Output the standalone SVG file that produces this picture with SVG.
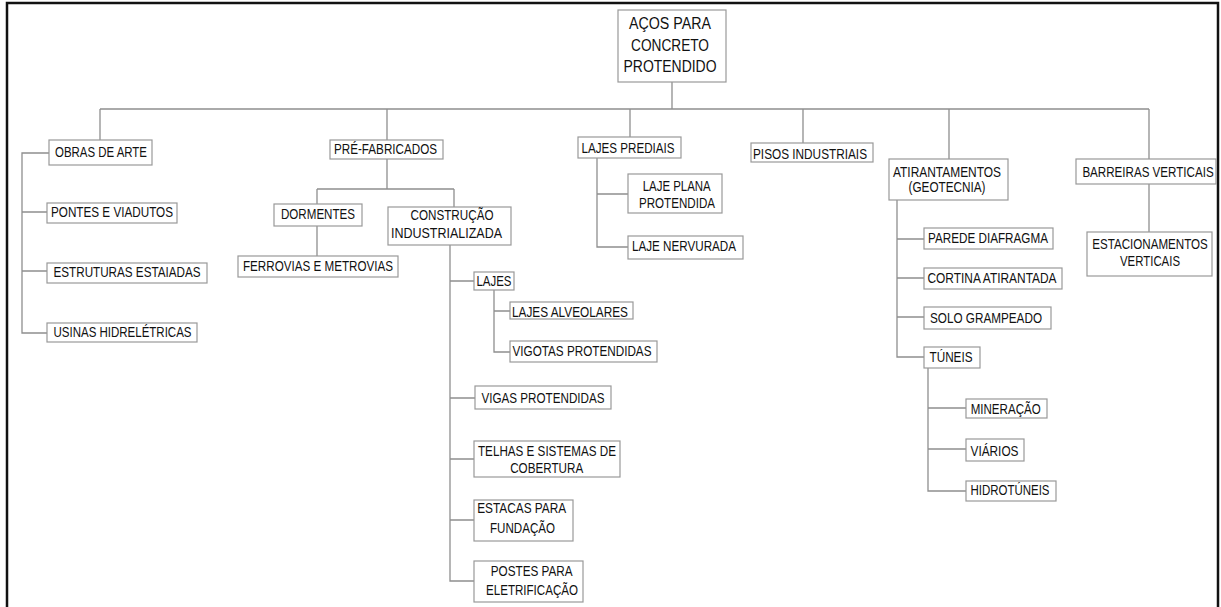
<svg xmlns="http://www.w3.org/2000/svg" width="1221" height="607" viewBox="0 0 1221 607">
<style>
.bx{fill:#fff;stroke:#999;stroke-width:1.2}
.t{font-family:"Liberation Sans Narrow","Liberation Sans",Arial,sans-serif;font-size:14.5px;fill:#111;text-anchor:middle}
.r{font-size:16px}
.c{fill:none;stroke:#8f8f8f;stroke-width:1.3}
</style>
<rect width="1221" height="607" fill="#fff"/>
<path d="M7,612 V3 H1218 V612" fill="none" stroke="#111" stroke-width="2.5"/>
<g id="connectors" class="c">
<path d="M672,82 V109 M100,109 H1149 M100,109 V140 M387,109 V140 M630,109 V137 M803,109 V143 M949,109 V159 M1149,109 V159"/>
<path d="M49,153 H22 V333 H47 M22,212 H47 M22,271 H47"/>
<path d="M387,159 V189 M317,189 H454 M317,189 V204 M454,189 V207 M317,226 V256"/>
<path d="M450,245 V581 H474 M450,281 H474 M450,398 H475 M450,459 H474 M450,520 H474"/>
<path d="M494,290 V352 H510 M494,311 H510"/>
<path d="M597,158 V247 H628 M597,194 H628"/>
<path d="M897,200 V357 H924 M897,239 H924 M897,278 H924 M897,317 H924"/>
<path d="M928,368 V491 H966 M928,408 H966 M928,449 H966"/>
<path d="M1149,184 V232"/>
</g>
<g id="root"><rect class="bx" x="618" y="10" width="108" height="72"/>
<text class="t r" x="670" y="29" textLength="82" lengthAdjust="spacingAndGlyphs">AÇOS PARA</text>
<text class="t r" x="670" y="50.5" textLength="78" lengthAdjust="spacingAndGlyphs">CONCRETO</text>
<text class="t r" x="670" y="71.5" textLength="93" lengthAdjust="spacingAndGlyphs">PROTENDIDO</text></g>
<g id="obras"><rect class="bx" x="49" y="140" width="103" height="25"/>
<text class="t" x="101" y="157" textLength="92" lengthAdjust="spacingAndGlyphs">OBRAS DE ARTE</text></g>
<g id="pontes"><rect class="bx" x="47" y="203" width="130" height="20"/>
<text class="t" x="112" y="217" textLength="122" lengthAdjust="spacingAndGlyphs">PONTES E VIADUTOS</text></g>
<g id="estaiadas"><rect class="bx" x="47" y="263" width="160" height="20"/>
<text class="t" x="127" y="276.5" textLength="147" lengthAdjust="spacingAndGlyphs">ESTRUTURAS ESTAIADAS</text></g>
<g id="usinas"><rect class="bx" x="47" y="323" width="150" height="19"/>
<text class="t" x="122.5" y="336.5" textLength="138" lengthAdjust="spacingAndGlyphs">USINAS HIDRELÉTRICAS</text></g>
<g id="prefab"><rect class="bx" x="330" y="140" width="113" height="19"/>
<text class="t" x="385.5" y="154" textLength="103" lengthAdjust="spacingAndGlyphs">PRÉ-FABRICADOS</text></g>
<g id="dormentes"><rect class="bx" x="274" y="204" width="88" height="22"/>
<text class="t" x="318" y="219" textLength="74" lengthAdjust="spacingAndGlyphs">DORMENTES</text></g>
<g id="ferrovias"><rect class="bx" x="238" y="256" width="160" height="21"/>
<text class="t" x="318" y="270.5" textLength="150" lengthAdjust="spacingAndGlyphs">FERROVIAS E METROVIAS</text></g>
<g id="construcao"><rect class="bx" x="388" y="207" width="123" height="38"/>
<text class="t" x="452" y="220" textLength="83" lengthAdjust="spacingAndGlyphs">CONSTRUÇÃO</text>
<text class="t" x="446.5" y="238" textLength="111" lengthAdjust="spacingAndGlyphs">INDUSTRIALIZADA</text></g>
<g id="lajes"><rect class="bx" x="474" y="272" width="40" height="18"/>
<text class="t" x="494" y="286" textLength="35" lengthAdjust="spacingAndGlyphs">LAJES</text></g>
<g id="alveolares"><rect class="bx" x="510" y="302" width="123" height="17"/>
<text class="t" x="570" y="316.5" textLength="116" lengthAdjust="spacingAndGlyphs">LAJES ALVEOLARES</text></g>
<g id="vigotas"><rect class="bx" x="510" y="341" width="147" height="21"/>
<text class="t" x="582" y="356" textLength="139" lengthAdjust="spacingAndGlyphs">VIGOTAS PROTENDIDAS</text></g>
<g id="vigas"><rect class="bx" x="475" y="386" width="136" height="23"/>
<text class="t" x="543" y="403" textLength="123" lengthAdjust="spacingAndGlyphs">VIGAS PROTENDIDAS</text></g>
<g id="telhas"><rect class="bx" x="474" y="441" width="146" height="36"/>
<text class="t" x="547" y="455.5" textLength="138" lengthAdjust="spacingAndGlyphs">TELHAS E SISTEMAS DE</text>
<text class="t" x="546.7" y="473" textLength="73" lengthAdjust="spacingAndGlyphs">COBERTURA</text></g>
<g id="estacas"><rect class="bx" x="474" y="500" width="99" height="41"/>
<text class="t" x="521.7" y="513" textLength="89" lengthAdjust="spacingAndGlyphs">ESTACAS PARA</text>
<text class="t" x="522.5" y="532.5" textLength="65" lengthAdjust="spacingAndGlyphs">FUNDAÇÃO</text></g>
<g id="postes"><rect class="bx" x="474" y="561" width="109" height="41"/>
<text class="t" x="531.7" y="576" textLength="82" lengthAdjust="spacingAndGlyphs">POSTES PARA</text>
<text class="t" x="532" y="595" textLength="92" lengthAdjust="spacingAndGlyphs">ELETRIFICAÇÃO</text></g>
<g id="lajesprediais"><rect class="bx" x="578" y="137" width="103" height="21"/>
<text class="t" x="628" y="153" textLength="93" lengthAdjust="spacingAndGlyphs">LAJES PREDIAIS</text></g>
<g id="lajeplana"><rect class="bx" x="628" y="174" width="94" height="39"/>
<text class="t" x="676.7" y="191" textLength="68" lengthAdjust="spacingAndGlyphs">LAJE PLANA</text>
<text class="t" x="677" y="207.5" textLength="76" lengthAdjust="spacingAndGlyphs">PROTENDIDA</text></g>
<g id="nervurada"><rect class="bx" x="628" y="236" width="115" height="23"/>
<text class="t" x="684" y="250.5" textLength="104" lengthAdjust="spacingAndGlyphs">LAJE NERVURADA</text></g>
<g id="pisos"><rect class="bx" x="751" y="143" width="122" height="19"/>
<text class="t" x="810" y="159" textLength="114" lengthAdjust="spacingAndGlyphs">PISOS INDUSTRIAIS</text></g>
<g id="atirantamentos"><rect class="bx" x="889" y="159" width="119" height="41"/>
<text class="t" x="947" y="176.5" textLength="108" lengthAdjust="spacingAndGlyphs">ATIRANTAMENTOS</text>
<text class="t" x="947" y="192" textLength="77" lengthAdjust="spacingAndGlyphs">(GEOTECNIA)</text></g>
<g id="parede"><rect class="bx" x="924" y="228" width="129" height="21"/>
<text class="t" x="988" y="242.5" textLength="120" lengthAdjust="spacingAndGlyphs">PAREDE DIAFRAGMA</text></g>
<g id="cortina"><rect class="bx" x="924" y="268" width="138" height="21"/>
<text class="t" x="992" y="282.5" textLength="129" lengthAdjust="spacingAndGlyphs">CORTINA ATIRANTADA</text></g>
<g id="solo"><rect class="bx" x="924" y="307" width="127" height="22"/>
<text class="t" x="986" y="322.5" textLength="112" lengthAdjust="spacingAndGlyphs">SOLO GRAMPEADO</text></g>
<g id="tuneis"><rect class="bx" x="924" y="347" width="56" height="21"/>
<text class="t" x="951" y="362.3" textLength="43" lengthAdjust="spacingAndGlyphs">TÚNEIS</text></g>
<g id="mineracao"><rect class="bx" x="966" y="399" width="81" height="19"/>
<text class="t" x="1005.7" y="414" textLength="70" lengthAdjust="spacingAndGlyphs">MINERAÇÃO</text></g>
<g id="viarios"><rect class="bx" x="966" y="439" width="58" height="22"/>
<text class="t" x="994.5" y="455.5" textLength="48" lengthAdjust="spacingAndGlyphs">VIÁRIOS</text></g>
<g id="hidrotuneis"><rect class="bx" x="966" y="481" width="90" height="20"/>
<text class="t" x="1010" y="495" textLength="79" lengthAdjust="spacingAndGlyphs">HIDROTÚNEIS</text></g>
<g id="barreiras"><rect class="bx" x="1076" y="159" width="140" height="25"/>
<text class="t" transform="translate(1148,177) scale(0.8,1)" x="0" y="0">BARREIRAS VERTICAIS</text></g>
<g id="estacionamentos"><rect class="bx" x="1087" y="232" width="125" height="44"/>
<text class="t" transform="translate(1150,249) scale(0.8,1)" x="0" y="0">ESTACIONAMENTOS</text>
<text class="t" x="1150" y="266" textLength="60" lengthAdjust="spacingAndGlyphs">VERTICAIS</text></g>
</svg>
